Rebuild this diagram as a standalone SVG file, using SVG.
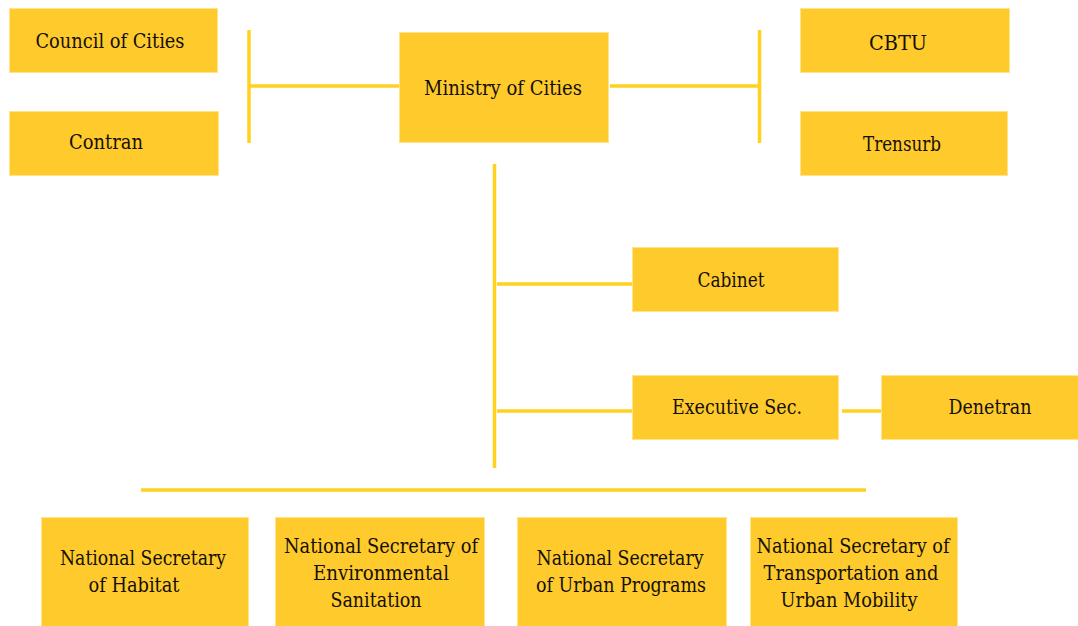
<svg xmlns="http://www.w3.org/2000/svg" width="1078" height="626" viewBox="0 0 1078 626">
  <style>
    .box { fill: #FFCA2C; stroke: #FFE58A; stroke-width: 1; }
    .lbl { font-family: "DejaVu Serif Condensed", "DejaVu Serif", "Liberation Serif", serif; font-size: 20.5px; fill: #141008; text-anchor: middle; }
    .wire { stroke: #FFD21F; stroke-width: 3.5; fill: none; stroke-linecap: butt; }
  </style>
  <rect x="0" y="0" width="1078" height="626" fill="#FFFFFF"/>

  <!-- connectors -->
  <g id="connectors">
    <line class="wire" x1="249" y1="30" x2="249" y2="143"/>
    <line class="wire" x1="249" y1="86" x2="399" y2="86"/>
    <line class="wire" x1="610" y1="86" x2="758" y2="86"/>
    <line class="wire" x1="759.5" y1="30" x2="759.5" y2="143"/>
    <line class="wire" x1="494.5" y1="164" x2="494.5" y2="468"/>
    <line class="wire" x1="497" y1="284" x2="632" y2="284"/>
    <line class="wire" x1="497" y1="411" x2="632" y2="411"/>
    <line class="wire" x1="842" y1="411" x2="881" y2="411"/>
    <line class="wire" x1="141" y1="490" x2="866" y2="490"/>
  </g>

  <g id="council-of-cities">
    <rect class="box" x="9.5" y="8.5" width="208" height="64"/>
    <text class="lbl" x="110" y="48" textLength="149" lengthAdjust="spacingAndGlyphs">Council of Cities</text>
  </g>
  <g id="contran">
    <rect class="box" x="9.5" y="111.5" width="209" height="64"/>
    <text class="lbl" x="106" y="149" textLength="74" lengthAdjust="spacingAndGlyphs">Contran</text>
  </g>
  <g id="ministry-of-cities">
    <rect class="box" x="399.5" y="32.5" width="209" height="110"/>
    <text class="lbl" x="503" y="95" textLength="158" lengthAdjust="spacingAndGlyphs">Ministry of Cities</text>
  </g>
  <g id="cbtu">
    <rect class="box" x="800.5" y="8.5" width="209" height="64"/>
    <text class="lbl" x="898" y="50" textLength="58" lengthAdjust="spacingAndGlyphs">CBTU</text>
  </g>
  <g id="trensurb">
    <rect class="box" x="800.5" y="111.5" width="207" height="64"/>
    <text class="lbl" x="902" y="151" textLength="78" lengthAdjust="spacingAndGlyphs">Trensurb</text>
  </g>
  <g id="cabinet">
    <rect class="box" x="632.5" y="247.5" width="206" height="64"/>
    <text class="lbl" x="731" y="287" textLength="67" lengthAdjust="spacingAndGlyphs">Cabinet</text>
  </g>
  <g id="executive-sec">
    <rect class="box" x="632.5" y="375.5" width="206" height="64"/>
    <text class="lbl" x="737" y="414" textLength="130" lengthAdjust="spacingAndGlyphs">Executive Sec.</text>
  </g>
  <g id="denetran">
    <rect class="box" x="881.5" y="375.5" width="197" height="64"/>
    <text class="lbl" x="990" y="414" textLength="83" lengthAdjust="spacingAndGlyphs">Denetran</text>
  </g>

  <g id="ns-habitat">
    <rect class="box" x="41.5" y="517.5" width="207" height="110"/>
    <text class="lbl" x="143" y="565" textLength="166" lengthAdjust="spacingAndGlyphs">National Secretary</text>
    <text class="lbl" x="134" y="592" textLength="91" lengthAdjust="spacingAndGlyphs">of Habitat</text>
  </g>
  <g id="ns-environmental-sanitation">
    <rect class="box" x="275.5" y="517.5" width="209" height="110"/>
    <text class="lbl" x="381" y="553" textLength="194" lengthAdjust="spacingAndGlyphs">National Secretary of</text>
    <text class="lbl" x="381" y="580" textLength="136" lengthAdjust="spacingAndGlyphs">Environmental</text>
    <text class="lbl" x="376" y="607" textLength="91" lengthAdjust="spacingAndGlyphs">Sanitation</text>
  </g>
  <g id="ns-urban-programs">
    <rect class="box" x="517.5" y="517.5" width="209" height="110"/>
    <text class="lbl" x="620" y="565" textLength="167" lengthAdjust="spacingAndGlyphs">National Secretary</text>
    <text class="lbl" x="621" y="592" textLength="170" lengthAdjust="spacingAndGlyphs">of Urban Programs</text>
  </g>
  <g id="ns-transportation">
    <rect class="box" x="750.5" y="517.5" width="207" height="110"/>
    <text class="lbl" x="853" y="553" textLength="193" lengthAdjust="spacingAndGlyphs">National Secretary of</text>
    <text class="lbl" x="851" y="580" textLength="175" lengthAdjust="spacingAndGlyphs">Transportation and</text>
    <text class="lbl" x="849" y="607" textLength="137" lengthAdjust="spacingAndGlyphs">Urban Mobility</text>
  </g>
</svg>
